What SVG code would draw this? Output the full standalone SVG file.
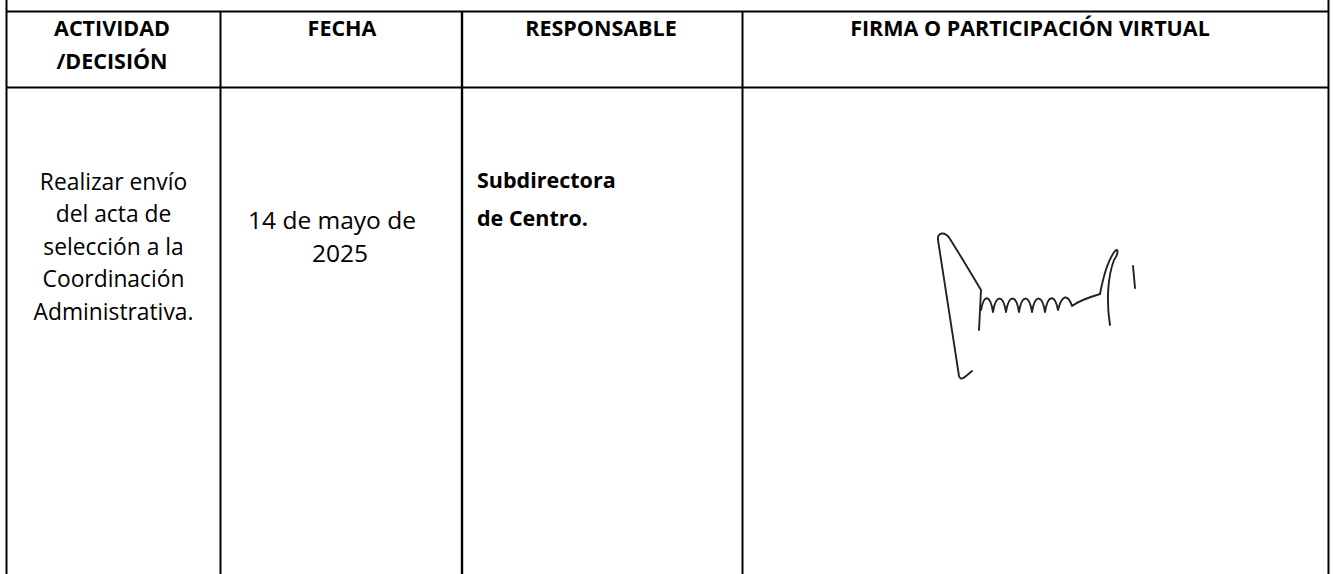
<svg xmlns="http://www.w3.org/2000/svg" width="1333" height="574" viewBox="0 0 1333 574">
<style>
.ln{stroke:#000;stroke-width:2;fill:none}
.h{font-family:"Open Sans","Liberation Sans",sans-serif;font-weight:bold;font-size:21.5px;fill:#000;text-anchor:middle}
.b{font-family:"Open Sans","Liberation Sans",sans-serif;font-size:22.8px;fill:#000;text-anchor:middle}
.f{font-family:"Open Sans","Liberation Sans",sans-serif;font-size:24.5px;fill:#000;text-anchor:middle}
.bb{font-family:"Open Sans","Liberation Sans",sans-serif;font-weight:bold;font-size:21.5px;fill:#000}
.sig{stroke:#222;stroke-width:1.9;fill:none;stroke-linecap:round;stroke-linejoin:round}
</style>
<rect width="1333" height="574" fill="#fff"/>
<g id="grid">
<line class="ln" x1="6.5" y1="0" x2="6.5" y2="574"/>
<line class="ln" x1="1328.5" y1="0" x2="1328.5" y2="574"/>
<line class="ln" x1="6" y1="11.5" x2="1329" y2="11.5"/>
<line class="ln" x1="6" y1="87.5" x2="1329" y2="87.5"/>
<line class="ln" x1="220.5" y1="11" x2="220.5" y2="574"/>
<line class="ln" x1="462" y1="11" x2="462" y2="574" style="stroke-width:2.4"/>
<line class="ln" x1="742.5" y1="11" x2="742.5" y2="574"/>
</g>
<g id="header">
<text class="h" x="112" y="36">ACTIVIDAD</text>
<text class="h" x="112" y="69">/DECISIÓN</text>
<text class="h" x="342" y="36">FECHA</text>
<text class="h" x="601" y="36">RESPONSABLE</text>
<text class="h" x="1030" y="36">FIRMA O PARTICIPACIÓN VIRTUAL</text>
</g>
<g id="actividad">
<text class="b" x="113.5" y="189.5">Realizar envío</text>
<text class="b" x="113.5" y="222">del acta de</text>
<text class="b" x="113.5" y="254.5">selección a la</text>
<text class="b" x="113.5" y="287">Coordinación</text>
<text class="b" x="113.5" y="319.5">Administrativa.</text>
</g>
<g id="fecha">
<text class="f" x="332" y="229">14 de mayo de</text>
<text class="f" x="340" y="261.5">2025</text>
</g>
<g id="responsable">
<text class="bb" x="477" y="188">Subdirectora</text>
<text class="bb" x="477" y="226">de Centro.</text>
</g>
<g id="firma">
<path class="sig" d="M972 371 C966 376,961 382,959 376 C952 330,944 280,938 240 C937 232,945 231,950 239 C962 258,972 275,981 290 L979 330"/>
<path class="sig" d="M981 310 C984 294,990 294,993 312 C996 294,1003 294,1006 312 C1009 294,1016 294,1019 312 C1022 294,1029 294,1032 312 C1035 294,1042 294,1045 312 C1048 294,1055 294,1058 310 C1062 294,1068 294,1072 306 C1080 300,1090 297,1100 294"/>
<path class="sig" d="M1100 294 C1103 278,1108 260,1115 251 C1119 247,1118 255,1114 260 C1108 276,1106 300,1110 325"/>
<path class="sig" d="M1133 266 L1135 288"/>
</g>
</svg>
